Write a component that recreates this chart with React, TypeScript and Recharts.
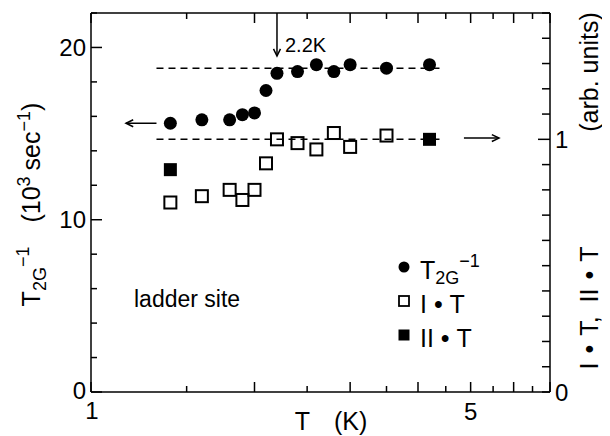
import { ScatterChart, Scatter, XAxis, YAxis, ReferenceLine, Legend } from 'recharts'

// temperature (K) for each series
const T_RATE = [1.4, 1.6, 1.8, 1.9, 2.0, 2.1, 2.2, 2.4, 2.6, 2.8, 3.0, 3.5, 4.2]
const RATE = [15.6, 15.8, 15.8, 16.1, 16.2, 17.5, 18.5, 18.6, 19.0, 18.6, 19.0, 18.8, 19.0]
const T_I = [1.4, 1.6, 1.8, 1.9, 2.0, 2.1, 2.2, 2.4, 2.6, 2.8, 3.0, 3.5]
const I_T = [0.75, 0.775, 0.8, 0.76, 0.8, 0.905, 1.0, 0.985, 0.96, 1.025, 0.97, 1.015]
const T_II = [1.4, 4.2]
const II_T = [0.88, 1.0]

const X_TICKS = [1, 1.5, 2, 2.5, 3, 3.5, 4, 4.5, 5, 5.5, 6, 6.5, 7]
const X_LABELS = [1, 5]
const LEFT_TICKS = [0, 2, 4, 6, 8, 10, 12, 14, 16, 18, 20, 22]
const LEFT_LABELS = [0, 10, 20]
const RIGHT_TICKS = [0, 0.1, 0.2, 0.3, 0.4, 0.5, 0.6, 0.7, 0.8, 0.9, 1, 1.1, 1.2, 1.3, 1.4, 1.5]
const RIGHT_LABELS = [0, 1]

// guide lines / annotations
const PLATEAU_T = [1.32, 4.46]
const PLATEAU_RATE = 18.8
const PLATEAU_I = 1.0
const TC = 2.2

const rateData = T_RATE.map((t, i) => ({ t, v: RATE[i] }))
const iData = T_I.map((t, i) => ({ t, v: I_T[i] }))
const iiData = T_II.map((t, i) => ({ t, v: II_T[i] }))

const FONT = '"Liberation Sans", Arial, Helvetica, sans-serif'
const INK = '#000'

const BottomTick = (p: any) => {
  const v = p.payload.value
  const major = Number.isInteger(v)
  return (
    <g>
      <line x1={p.x} x2={p.x} y1={p.y} y2={p.y - (major ? 10 : 6)} stroke={INK} strokeWidth={1.5} />
      {X_LABELS.includes(v) && (
        <text x={p.x + (v === 1 ? 1 : 0)} y={p.y + (v === 1 ? 27 : 28)} textAnchor="middle" fontSize={24} fontFamily={FONT} fill={INK}>
          {v}
        </text>
      )}
    </g>
  )
}

const TopTick = (p: any) => {
  const major = Number.isInteger(p.payload.value)
  return <line x1={p.x} x2={p.x} y1={p.y} y2={p.y + (major ? 10 : 6)} stroke={INK} strokeWidth={1.5} />
}

const LeftTick = (p: any) => {
  const v = p.payload.value
  const major = LEFT_LABELS.includes(v)
  return (
    <g>
      <line x1={p.x} x2={p.x + (major ? 11 : 6)} y1={p.y} y2={p.y} stroke={INK} strokeWidth={1.5} />
      {major && (
        <text x={p.x - 5} y={p.y - (v === 0 ? 2 : 0)} dy="0.36em" textAnchor="end" fontSize={24} fontFamily={FONT} fill={INK}>
          {v}
        </text>
      )}
    </g>
  )
}

const RightTick = (p: any) => {
  const v = p.payload.value
  const major = RIGHT_LABELS.includes(v)
  return (
    <g>
      <line x1={p.x} x2={p.x - (v === 1 ? 12 : 8)} y1={p.y} y2={p.y} stroke={INK} strokeWidth={1.5} />
      {major && (
        <text x={p.x + 5} y={p.y} dy="0.36em" textAnchor="start" fontSize={24} fontFamily={FONT} fill={INK}>
          {v}
        </text>
      )}
    </g>
  )
}

const Dot = (p: any) => <circle cx={p.cx} cy={p.cy} r={6.5} fill={INK} />
const OpenSquare = (p: any) => (
  <rect x={p.cx - 6} y={p.cy - 6} width={12} height={12} fill="none" stroke={INK} strokeWidth={2} />
)
const FilledSquare = (p: any) => <rect x={p.cx - 6.5} y={p.cy - 6.5} width={13} height={13} fill={INK} />

// line with an arrow head at its (x2, y2) end
const arrowShape = (p: any) => {
  const { x1, y1, x2, y2 } = p
  const a = Math.atan2(y2 - y1, x2 - x1)
  const h = 8
  const w = 0.45
  const ax = x2 - h * Math.cos(a - w)
  const ay = y2 - h * Math.sin(a - w)
  const bx = x2 - h * Math.cos(a + w)
  const by = y2 - h * Math.sin(a + w)
  return (
    <g>
      <line x1={x1} y1={y1} x2={x2} y2={y2} stroke={INK} strokeWidth={1.5} />
      <polyline points={`${ax},${ay} ${x2},${y2} ${bx},${by}`} fill="none" stroke={INK} strokeWidth={1.5} />
    </g>
  )
}

const LeftTitle = (p: any) => {
  const vb = p.viewBox
  const cx = 32
  const cy = vb.y + vb.height / 2 + 2
  return (
    <text
      transform={`translate(${cx},${cy}) rotate(-90)`}
      textAnchor="middle"
      fontSize={25}
      fontFamily={FONT}
      fill={INK}
    >
      <tspan>T</tspan>
      <tspan fontSize={18} dy={6}>2G</tspan>
      <tspan fontSize={18} dy={-17}>−1</tspan>
      <tspan dy={11} dx={24}>(10</tspan>
      <tspan fontSize={18} dy={-10}>3</tspan>
      <tspan dy={10} dx={6}>sec</tspan>
      <tspan fontSize={18} dy={-10}>−1</tspan>
      <tspan dy={10}>)</tspan>
    </text>
  )
}

const RightTitle = () => {
  const cx = 590
  return (
    <g fontSize={25} fontFamily={FONT} fill={INK}>
      <text transform={`translate(${cx},${300}) rotate(-90)`} textAnchor="middle">
        <tspan>I</tspan>
        <tspan dx={9}>•</tspan>
        <tspan dx={9}>T,</tspan>
        <tspan dx={14}>II</tspan>
        <tspan dx={9}>•</tspan>
        <tspan dx={9}>T</tspan>
      </text>
      <text transform={`translate(${cx},${64}) rotate(-90)`} textAnchor="middle">
        (arb. units)
      </text>
    </g>
  )
}

const BottomTitle = (p: any) => {
  const vb = p.viewBox
  return (
    <text x={vb.x + 240} y={vb.y + 38} textAnchor="middle" fontSize={25} fontFamily={FONT} fill={INK}>
      <tspan>T</tspan>
      <tspan dx={24}>(K)</tspan>
    </text>
  )
}

const LEGEND_ROWS = [
  { key: 'rate', icon: 'dot' },
  { key: 'i', icon: 'open' },
  { key: 'ii', icon: 'filled' },
]

const LegendBox = () => (
  <div style={{ fontFamily: FONT, fontSize: 25, color: INK, lineHeight: '33px' }}>
    {LEGEND_ROWS.map((r) => (
      <div key={r.key} style={{ display: 'flex', alignItems: 'center', height: 34 }}>
        <svg width={16} height={16} style={{ marginRight: 8, marginTop: -6 }}>
          {r.icon === 'dot' && <circle cx={8} cy={8} r={5.5} fill={INK} />}
          {r.icon === 'open' && <rect x={3} y={3} width={10} height={10} fill="none" stroke={INK} strokeWidth={1.8} />}
          {r.icon === 'filled' && <rect x={2.5} y={2.5} width={11} height={11} fill={INK} />}
        </svg>
        {r.key === 'rate' && (
          <span>
            T<sub style={{ fontSize: 18, verticalAlign: '-5px' }}>2G</sub>
            <sup style={{ fontSize: 18, verticalAlign: '12px' }}>−1</sup>
          </span>
        )}
        {r.key === 'i' && <span>I&nbsp;•&nbsp;T</span>}
        {r.key === 'ii' && <span>II&nbsp;•&nbsp;T</span>}
      </div>
    ))}
  </div>
)

export default function App() {
  return (
    <div style={{ position: 'relative', width: 602, height: 428, background: '#fff' }}>
      <ScatterChart width={602} height={428} margin={{ top: 0, right: 0, bottom: 0, left: 0 }}>
        <XAxis
          dataKey="t"
          type="number"
          scale="log"
          domain={[1, 7]}
          ticks={X_TICKS}
          allowDataOverflow
          height={44}
          axisLine={{ stroke: INK, strokeWidth: 1.5 }}
          tickLine={false}
          tickSize={0}
          tickMargin={0}
          tick={BottomTick}
          interval={0}
          label={{ content: BottomTitle }}
        />
        <XAxis
          xAxisId="top"
          orientation="top"
          dataKey="t"
          type="number"
          scale="log"
          domain={[1, 7]}
          ticks={X_TICKS}
          allowDataOverflow
          height={5}
          axisLine={{ stroke: INK, strokeWidth: 1.5 }}
          tickLine={false}
          tickSize={0}
          tickMargin={0}
          tick={TopTick}
          interval={0}
        />
        <YAxis
          yAxisId="left"
          dataKey="v"
          type="number"
          domain={[0, 22]}
          ticks={LEFT_TICKS}
          allowDataOverflow
          width={83}
          axisLine={{ stroke: INK, strokeWidth: 1.5 }}
          tickLine={false}
          tickSize={0}
          tickMargin={0}
          tick={LeftTick}
          interval={0}
          label={{ content: LeftTitle }}
        />
        <YAxis
          yAxisId="right"
          orientation="right"
          dataKey="v"
          type="number"
          domain={[0, 1.5]}
          ticks={RIGHT_TICKS}
          allowDataOverflow
          width={60}
          axisLine={{ stroke: INK, strokeWidth: 1.5 }}
          tickLine={false}
          tickSize={0}
          tickMargin={0}
          tick={RightTick}
          interval={0}
          label={{ content: RightTitle }}
        />
        <ReferenceLine
          yAxisId="left"
          segment={[{ x: PLATEAU_T[0], y: PLATEAU_RATE }, { x: PLATEAU_T[1], y: PLATEAU_RATE }]}
          stroke={INK}
          strokeWidth={1.5}
          strokeDasharray="7 5"
        />
        <ReferenceLine
          yAxisId="right"
          segment={[{ x: PLATEAU_T[0], y: PLATEAU_I }, { x: PLATEAU_T[1], y: PLATEAU_I }]}
          stroke={INK}
          strokeWidth={1.5}
          strokeDasharray="7 5"
        />
        <ReferenceLine
          yAxisId="left"
          segment={[{ x: 1.32, y: 15.6 }, { x: 1.16, y: 15.6 }]}
          shape={arrowShape}
        />
        <ReferenceLine
          yAxisId="right"
          segment={[{ x: 4.86, y: 1.005 }, { x: 5.64, y: 1.005 }]}
          shape={arrowShape}
        />
        <ReferenceLine
          yAxisId="left"
          segment={[{ x: TC, y: 22 }, { x: TC, y: 19.5 }]}
          shape={(p: any) => (
            <g>
              {arrowShape(p)}
              <text x={p.x1 + 8} y={p.y1 + 39} fontSize={20} fontFamily={FONT} fill={INK}>
                2.2K
              </text>
            </g>
          )}
        />
        <Scatter yAxisId="left" data={rateData} shape={Dot} isAnimationActive={false} />
        <Scatter yAxisId="right" data={iData} shape={OpenSquare} isAnimationActive={false} />
        <Scatter yAxisId="right" data={iiData} shape={FilledSquare} isAnimationActive={false} />
        <Legend
          layout="horizontal"
          verticalAlign="middle"
          align="center"
          content={LegendBox}
          wrapperStyle={{ left: 388, top: 245, width: 140, height: 104 }}
        />
      </ScatterChart>
      <div
        style={{
          position: 'absolute',
          left: 126,
          top: 278,
          fontFamily: FONT,
          fontSize: 23,
          color: INK,
          whiteSpace: 'nowrap',
        }}
      >
        ladder site
      </div>
    </div>
  )
}
